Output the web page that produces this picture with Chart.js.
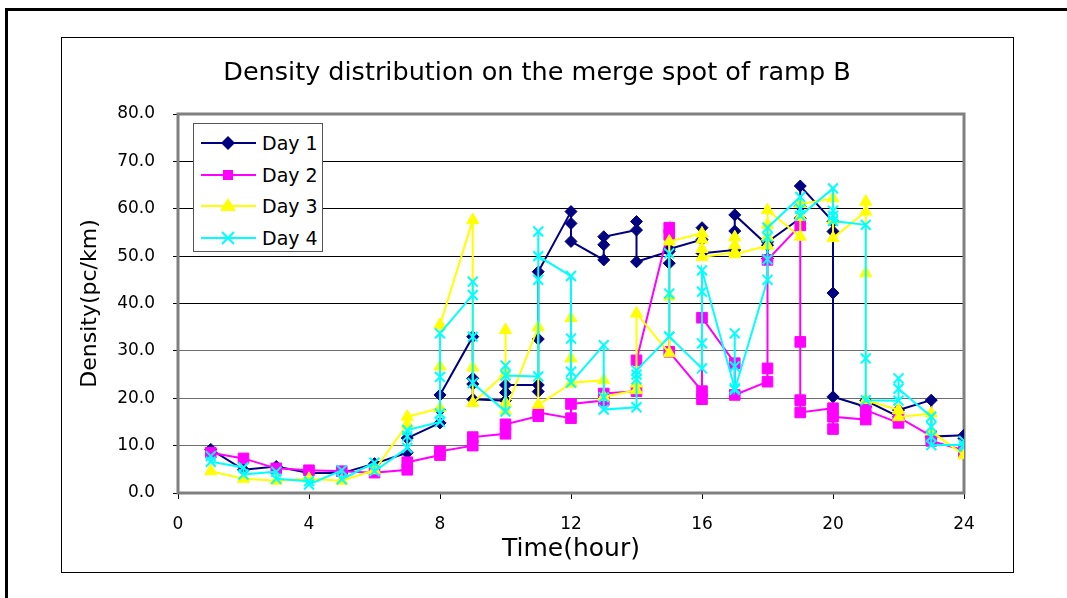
<!DOCTYPE html>
<html>
<head>
<meta charset="utf-8">
<script src="https://cdn.jsdelivr.net/npm/chart.js@4/dist/chart.umd.min.js"></script>
<style>
  body { margin: 0; background: #fff; width: 1067px; height: 598px; overflow: hidden; position: relative; font-family: "DejaVu Sans", sans-serif; }
  #frame { position: absolute; left: 5px; top: 8px; width: 1062px; height: 600px; border-top: 3px solid #000; border-left: 3px solid #000; }
  #box { position: absolute; left: 61px; top: 37px; width: 953px; height: 536px; border: 1px solid #000; box-sizing: border-box; }
  #chart { position: absolute; left: 61px; top: 37px; }
  #legend { position: absolute; left: 193px; top: 123px; width: 130px; height: 129px; border: 1px solid #555; box-sizing: border-box; background: #fff; }
  .row { position: absolute; left: 0; height: 24px; width: 128px; }
  .row svg { position: absolute; left: 5px; top: 0; }
  .row span { position: absolute; left: 68px; top: 0; line-height: 24px; font-size: 19px; color: #000; white-space: nowrap; }
</style>
</head>
<body>
<div id="frame"></div>
<div id="box"></div>
<canvas id="chart" width="952" height="535"></canvas>
<div id="legend"></div>
<script>
// hours on the x axis, several readings per hour for each day (in plotting order)
var hours = [1,2,3,4,5,6,7,8,9,10,11,12,13,14,15,16,17,18,19,20,21,22,23,24];

var day1 = [
  [9.2],[4.9],[5.6],[4.2],[4.2],[6.2],
  [8.5,11.6],
  [14.8,17.5,20.7],
  [33.0,24.2,23.0,19.8],
  [19.5,21.2,22.8],
  [22.8,21.4,32.5,46.7],
  [59.4,56.9,53.1],
  [49.2,52.4,54.1],
  [55.5,57.3,48.8],
  [51.0,48.5,51.5],
  [53.5,56.0,50.6],
  [51.3,55.3,58.7],
  [52.3,49.5,53.0],
  [58.0,60.5,64.8],
  [57.3,55.2,42.2,20.3],
  [18.2,19.5],
  [16.1,17.5],
  [19.6,11.9],
  [12.2,11.5]
];

var day2 = [
  [8.5],[7.3],[5.2],[4.8],[4.6],[4.3],
  [4.9,6.5],
  [8.0,8.8],
  [10.0,11.8],
  [12.5,14.5],
  [16.2,17.0],
  [15.8,18.8],
  [19.5,21.0],
  [21.5,28.0],
  [56.0,54.5,29.8],
  [21.5,19.8,37.0],
  [27.4,20.7],
  [23.5,26.3,49.2],
  [56.5,31.9,19.6,17.0],
  [17.9,13.5,16.1],
  [15.5,17.5],
  [14.8,16.0],
  [12.0,11.0],
  [9.0,8.5]
];

var day3 = [
  [4.6],[3.0],[2.6],[3.0],[2.6],[4.8],
  [14.5,16.1],
  [17.9,26.7,35.5],
  [57.6,26.5,19.0],
  [25.3,34.4,19.0,17.4],
  [35.0,18.6],
  [23.1,36.9,28.4,23.3],
  [23.8,20.3],
  [21.7,23.1,37.9],
  [29.5,41.5,53.1],
  [54.8,53.5,51.5,49.8],
  [50.8,52.3,54.0,50.4],
  [52.2,54.1,56.6,59.7],
  [54.1,58.3,61.0],
  [62.2,57.6,53.8],
  [59.4,61.5,46.4,19.6],
  [17.5,16.0],
  [16.8,13.0],
  [8.0]
];

var day4 = [
  [7.8,6.6],[5.4,3.9],[4.5,3.0],[2.5,1.8],[4.8,2.9],[6.4,4.6],
  [9.5,12.0,13.3],
  [15.0,16.8,24.5,33.7],
  [41.8,44.6,33.0,23.2],
  [17.2,26.9,24.8],
  [24.6,45.0,55.2,50.0],
  [45.8,32.6,25.6,23.3],
  [31.2,20.2,17.6],
  [18.1,24.0,25.0,25.9],
  [33.0,42.1,50.6,33.0],
  [26.3,31.6,42.5,47.0],
  [22.1,33.7,26.7,21.8],
  [45.0,49.3,54.0,56.0],
  [62.5,60.0,58.5],
  [64.3,59.6,58.5,57.4],
  [56.6,28.4,19.6],
  [19.5,24.2,22.0],
  [16.1,14.0,11.9,10.1],
  [10.2,11.0,9.7]
];

var seriesNames = ['Day 1','Day 2','Day 3','Day 4'];
var seriesColors = ['#000080','#FF00FF','#FFFF00','#00FFFF'];
var yTicks = [0,10,20,30,40,50,60,70,80];
var xTicks = [0,4,8,12,16,20,24];

var FONT = '"DejaVu Sans", sans-serif';

function toPoints(series){
  var pts = [];
  for(var i=0; i<hours.length; i++){
    for(var j=0; j<series[i].length; j++){
      pts.push({x: hours[i], y: series[i][j]});
    }
  }
  return pts;
}

function makeSet(i, data, style, radius){
  return {
    label: seriesNames[i],
    data: toPoints(data),
    borderColor: seriesColors[i],
    backgroundColor: seriesColors[i],
    borderWidth: 2,
    pointStyle: style,
    pointRadius: radius,
    pointBorderColor: seriesColors[i],
    pointBackgroundColor: seriesColors[i],
    pointBorderWidth: style === 'crossRot' ? 2 : 1,
    tension: 0,
    order: 4 - i   // day 4 ends up on top
  };
}

// grey border round the plot area, under the markers
var plotFrame = {
  id: 'plotFrame',
  beforeDatasetsDraw: function(chart){
    var a = chart.chartArea, c = chart.ctx;
    c.save();
    c.strokeStyle = '#808080';
    c.lineWidth = 3;
    c.strokeRect(a.left, a.top, a.right - a.left, a.bottom - a.top);
    c.restore();
  }
};

new Chart(document.getElementById('chart').getContext('2d'), {
  type: 'line',
  data: {
    datasets: [
      makeSet(0, day1, 'rectRot', 6),
      makeSet(1, day2, 'rect', 7.5),
      makeSet(2, day3, 'triangle', 7),
      makeSet(3, day4, 'crossRot', 7)
    ]
  },
  options: {
    responsive: false,
    animation: false,
    devicePixelRatio: 1,
    layout: { padding: 0 },
    plugins: {
      legend: { display: false },
      tooltip: { enabled: false },
      title: {
        display: true,
        text: 'Density distribution on the merge spot of ramp B',
        color: '#000',
        font: { family: FONT, size: 25.5, weight: 'normal' },
        padding: { top: 21, bottom: 25.4 }
      }
    },
    scales: {
      x: {
        type: 'linear',
        min: xTicks[0],
        max: xTicks[xTicks.length-1],
        afterBuildTicks: function(s){ s.ticks = xTicks.map(function(v){ return {value: v}; }); },
        afterFit: function(s){ s.height = 79; },
        ticks: { color: '#000', font: { family: FONT, size: 17 }, padding: 15, maxRotation: 0 },
        grid: { drawOnChartArea: false, drawTicks: true, tickLength: 6, tickColor: '#000', tickWidth: 1 },
        border: { display: false },
        title: { display: true, text: 'Time(hour)', color: '#000', font: { family: FONT, size: 25 }, padding: { top: 0, bottom: 8 } }
      },
      y: {
        min: yTicks[0],
        max: yTicks[yTicks.length-1],
        afterBuildTicks: function(s){ s.ticks = yTicks.map(function(v){ return {value: v}; }); },
        afterFit: function(s){ s.width = 117; },
        ticks: {
          color: '#000',
          font: { family: FONT, size: 17 },
          padding: 18,
          callback: function(v){ return Number(v).toFixed(1); }
        },
        grid: {
          color: function(ctx){
            if(!ctx.tick) return '#000';
            if(ctx.tick.value === 0 || ctx.tick.value === 80) return 'rgba(0,0,0,0)';
            return ctx.tick.value <= 30 ? '#6e6e6e' : '#000';
          },
          lineWidth: 1,
          drawTicks: true,
          tickLength: 5,
          tickColor: '#000'
        },
        border: { display: false },
        title: { display: true, text: 'Density(pc/km)', color: '#000', font: { family: FONT, size: 22 }, padding: { top: 16, bottom: 0 } }
      },
      // empty right-hand axis, only keeps the gap right of the plot so the title stays centred
      gap: {
        position: 'right',
        display: true,
        ticks: { display: false },
        grid: { display: false },
        border: { display: false },
        afterFit: function(s){ s.width = 49; }
      }
    }
  },
  plugins: [plotFrame]
});

// legend box inside the plot, like the spreadsheet one
var markerSvg = [
  '<polygon points="29,5 36,12 29,19 22,12" fill="#000080"/>',
  '<rect x="24" y="7" width="10" height="10" fill="#FF00FF"/>',
  '<polygon points="29,4 37,17 21,17" fill="#FFFF00"/>',
  '<path d="M23,6 L35,18 M35,6 L23,18" stroke="#00FFFF" stroke-width="2"/>'
];
var legend = document.getElementById('legend');
var rowTops = [7, 38.5, 70, 101.5];
for(var i=0; i<seriesNames.length; i++){
  var row = document.createElement('div');
  row.className = 'row';
  row.style.top = rowTops[i] + 'px';
  row.innerHTML = '<svg width="60" height="24"><line x1="2" y1="12" x2="57" y2="12" stroke="' + seriesColors[i] + '" stroke-width="2"/>' +
    markerSvg[i] + '</svg><span>' + seriesNames[i] + '</span>';
  legend.appendChild(row);
}
</script>
</body>
</html>
